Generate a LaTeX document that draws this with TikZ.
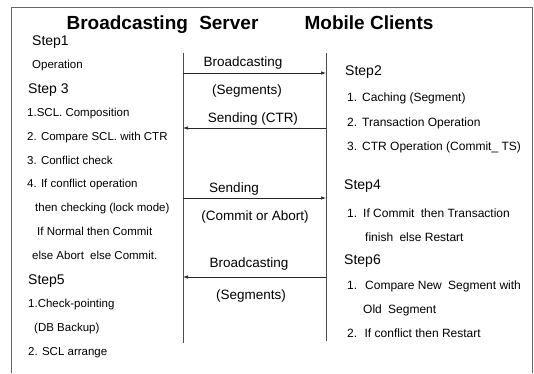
\documentclass[tikz,border=0pt]{standalone}
\usepackage{fontspec}
\setmainfont{Liberation Sans}
\usetikzlibrary{arrows.meta}
\begin{document}
\begin{tikzpicture}[x=1pt,y=-1pt,
  ttl/.style={font=\fontsize{19}{22}\selectfont\bfseries, inner sep=0, anchor=base},
  stp/.style={font=\fontsize{14}{16}\selectfont, inner sep=0, anchor=base west},
  itm/.style={font=\fontsize{11.5}{13}\selectfont, inner sep=0, anchor=base west},
  ritm/.style={font=\fontsize{12}{14}\selectfont, inner sep=0, anchor=base west},
  lbl/.style={font=\fontsize{13.5}{15}\selectfont, inner sep=0, anchor=base},
  arr/.style={draw=black!85, line width=0.7pt, -{Latex[length=5pt,width=3.5pt]}},
  vline/.style={draw=black!70, line width=0.6pt},
  frame/.style={draw=black!60, line width=0.6pt}]
\useasboundingbox (0,0) rectangle (534,373);
\draw[frame] (11,373) -- (11,7) -- (532,7) -- (532,373);
% titles
\node[ttl] (t1) at (162.5,29) {Broadcasting\hspace{6pt} Server};
\node[ttl] (t2) at (369,29) {Mobile Clients};
% lifelines
\coordinate (Ltop) at (183,53); \coordinate (Lbot) at (183,343);
\coordinate (Rtop) at (326,53); \coordinate (Rbot) at (326,341);
\draw[vline] (Ltop) -- (Lbot);
\draw[vline] (Rtop) -- (Rbot);
% arrows
\coordinate (a1l) at (183,73);  \coordinate (a1r) at (326,73);
\coordinate (a2l) at (183,128); \coordinate (a2r) at (326,128);
\coordinate (a3l) at (183,198); \coordinate (a3r) at (326,198);
\coordinate (a4l) at (183,277); \coordinate (a4r) at (326,277);
\draw[arr] (a1l) -- (a1r);
\draw[arr] (a2r) -- (a2l);
\draw[arr] (a3l) -- (a3r);
\draw[arr] (a4r) -- (a4l);
\node[lbl] (m1) at (243,66) {Broadcasting};
\node[lbl] (m2) at (247,94) {(Segments)};
\node[lbl] (m3) at (253,122) {Sending (CTR)};
\node[lbl] (m4) at (234,192) {Sending};
\node[lbl] (m5) at (255,220) {(Commit or Abort)};
\node[lbl] (m6) at (249,267) {Broadcasting};
\node[lbl] (m7) at (251,299) {(Segments)};
% left column
\node[stp] (s1) at (32,45) {Step1};
\node[itm] (s1a) at (32,68) {Operation};
\node[stp] (s3) at (28,93) {Step 3};
\node[itm] (s3a) at (27,116) {1.SCL. Composition};
\node[itm] (s3b) at (27,140) {2. Compare SCL. with CTR};
\node[itm] (s3c) at (27,164) {3. Conflict check};
\node[itm] (s3d) at (27,187) {4. If conflict operation};
\node[itm] (s3e) at (35,211) {then checking (lock mode)};
\node[itm] (s3f) at (37,235) {If Normal then Commit};
\node[itm] (s3g) at (32,259) {else Abort\hspace{3pt} else Commit.};
\node[stp] (s5) at (28,284) {Step5};
\node[itm] (s5a) at (28,307) {1.Check-pointing};
\node[itm] (s5b) at (34,331) {(DB Backup)};
\node[itm] (s5c) at (28,355) {2. SCL arrange};
% right column
\node[stp] (s2) at (345,75) {Step2};
\node[ritm] (n21) at (347,101) {1.};
\node[ritm] (s2a) at (362,101) {Caching (Segment)};
\node[ritm] (n22) at (347,126) {2.};
\node[ritm] (s2b) at (362,126) {Transaction Operation};
\node[ritm] (n23) at (347,150) {3.};
\node[ritm] (s2c) at (362,150) {CTR Operation (Commit\_ TS)};
\node[stp] (s4) at (344,189) {Step4};
\node[ritm] (n41) at (347,217) {1.};
\node[ritm] (s4a) at (363,217) {If Commit\hspace{3pt} then Transaction};
\node[ritm] (s4b) at (365,241) {finish\hspace{3pt} else Restart};
\node[stp] (s6) at (344,264) {Step6};
\node[ritm] (n61) at (347,289) {1.};
\node[ritm] (s6a) at (365,289) {Compare New\hspace{3pt} Segment with};
\node[ritm] (s6b) at (363,313) {Old\hspace{3pt} Segment};
\node[ritm] (s6c) at (347,337) {2.\hspace{3pt} If conflict then Restart};
\end{tikzpicture}
\end{document}
